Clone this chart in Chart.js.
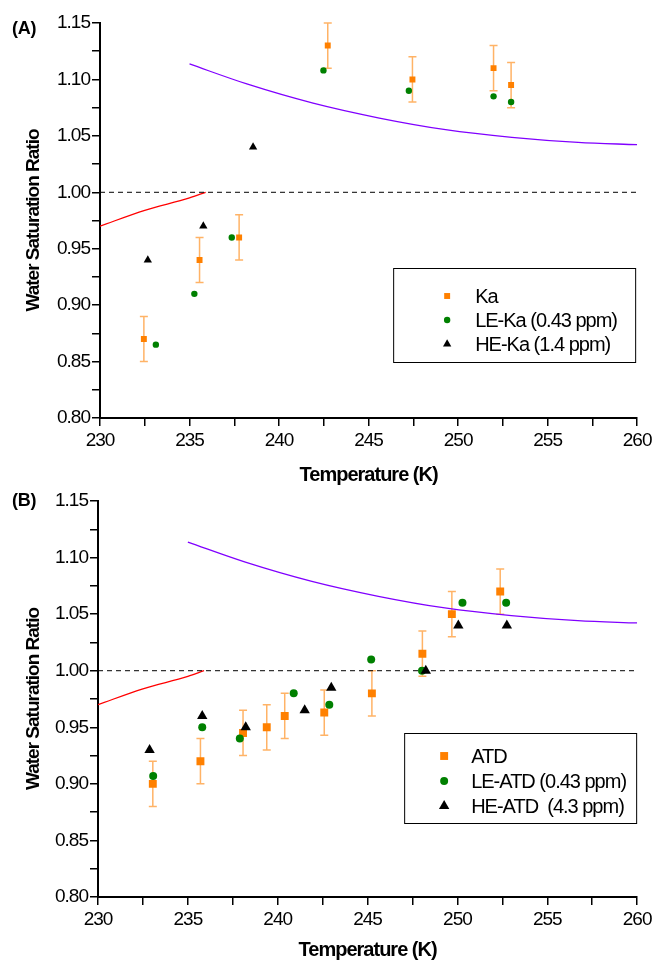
<!DOCTYPE html>
<html>
<head>
<meta charset="utf-8">
<script src="https://cdn.jsdelivr.net/npm/chart.js@4/dist/chart.umd.min.js"></script>
<style>
  html, body { margin: 0; padding: 0; background: #fff; }
  #wrap { position: relative; width: 656px; height: 962px; overflow: hidden; }
  canvas { position: absolute; left: 0; display: block; }
  .panel-tag {
    position: absolute; left: 12px;
    font: bold 18px "Liberation Sans", Arial, sans-serif;
    letter-spacing: -0.3px; color: #000;
  }
</style>
</head>
<body>
<div id="wrap">
  <canvas id="chartA" width="656" height="487" style="top:0"></canvas>
  <canvas id="chartB" width="656" height="475" style="top:487px"></canvas>
  <div class="panel-tag" style="top:18px">(A)</div>
  <div class="panel-tag" style="top:490px">(B)</div>
</div>
<script>
// --- axis ticks (major every 5 K / 0.05, minor in between) ---
const tempTicks = [230, 232.5, 235, 237.5, 240, 242.5, 245, 247.5, 250, 252.5, 255, 257.5, 260];
const ratioTicks = [0.80, 0.825, 0.85, 0.875, 0.90, 0.925, 0.95, 0.975, 1.00, 1.025, 1.05, 1.075, 1.10, 1.125, 1.15];

// --- reference curves shared by both panels ---
const iceCurveT = [235, 238.2, 241.9, 245.6, 249.3, 253.0, 256.7, 260];
const iceCurveS = [1.1137, 1.096, 1.079, 1.0658, 1.0555, 1.0487, 1.0442, 1.0422];
const liqCurveT = [230, 232.5, 235, 235.9];
const liqCurveS = [0.970, 0.984, 0.995, 1.000];
const satLineT = [230, 260];
const satLineS = [1.0, 1.0];

// --- panel A: kaolinite ---
const kaT = [232.45, 235.56, 237.77, 242.72, 247.45, 251.98, 252.96];
const kaS = [0.87, 0.94, 0.96, 1.13, 1.10, 1.11, 1.095];
const kaErr = [0.02, 0.02, 0.02, 0.02, 0.02, 0.02, 0.02];
const leKaT = [233.12, 235.27, 237.36, 242.48, 247.25, 251.98, 252.96];
const leKaS = [0.865, 0.91, 0.96, 1.108, 1.09, 1.085, 1.08];
const heKaT = [232.67, 235.77, 238.55];
const heKaS = [0.94, 0.97, 1.04];

// --- panel B: ATD ---
const atdT = [233.05, 235.70, 238.07, 239.39, 240.39, 242.59, 245.24, 248.05, 249.69, 252.38];
const atdS = [0.90, 0.92, 0.945, 0.95, 0.96, 0.963, 0.98, 1.015, 1.05, 1.07];
const atdErr = [0.02, 0.02, 0.02, 0.02, 0.02, 0.02, 0.02, 0.02, 0.02, 0.02];
const leAtdT = [233.07, 235.8, 237.89, 240.89, 242.87, 245.2, 248.03, 250.28, 252.71];
const leAtdS = [0.907, 0.95, 0.94, 0.98, 0.97, 1.01, 1.00, 1.06, 1.06];
const heAtdT = [232.87, 235.8, 238.22, 241.5, 242.98, 248.24, 250.05, 252.75];
const heAtdS = [0.93, 0.96, 0.95, 0.965, 0.985, 1.00, 1.04, 1.04];

const FONT = '"Liberation Sans", Arial, sans-serif';
const ORANGE = "#ff8000";
const GREEN = "#008000";
const toPts = (xs, ys) => xs.map((x, i) => ({ x: x, y: ys[i] }));

// tighter text, like the original plotting program
const tightText = {
    id: "tightText",
    beforeDraw(chart) {
        chart.ctx.letterSpacing = "-1px";
    },
};

// vertical error bars for one dataset, drawn behind the markers
const errorBars = {
    id: "errorBars",
    beforeDatasetsDraw(chart, args, opts) {
        if (!opts || !opts.err) return;
        const { ctx } = chart;
        const x = chart.scales.x;
        const y = chart.scales.y;
        const pts = chart.data.datasets[opts.dataset].data;
        ctx.save();
        ctx.strokeStyle = "rgba(255, 128, 0, 0.6)";
        ctx.lineWidth = 1.5;
        pts.forEach((p, i) => {
            const px = x.getPixelForValue(p.x);
            const top = y.getPixelForValue(p.y + opts.err[i]);
            const bot = y.getPixelForValue(p.y - opts.err[i]);
            ctx.beginPath();
            ctx.moveTo(px, top);
            ctx.lineTo(px, bot);
            ctx.moveTo(px - opts.cap, top);
            ctx.lineTo(px + opts.cap, top);
            ctx.moveTo(px - opts.cap, bot);
            ctx.lineTo(px + opts.cap, bot);
            ctx.stroke();
        });
        ctx.restore();
    },
};

// boxed legend sitting inside the plot area
const boxLegend = {
    id: "boxLegend",
    afterDraw(chart, args, opts) {
        const { ctx, chartArea } = chart;
        const left = chartArea.right - opts.right - opts.width;
        const top = chartArea.top + opts.top;
        ctx.save();
        ctx.strokeStyle = "#000";
        ctx.lineWidth = 1;
        ctx.strokeRect(left + 0.5, top + 0.5, opts.width, opts.height);
        ctx.font = "20px " + FONT;
        ctx.textBaseline = "middle";
        ctx.textAlign = "left";
        opts.items.forEach((idx, row) => {
            const ds = chart.data.datasets[idx];
            const cy = top + opts.firstRow + row * opts.rowGap;
            ctx.fillStyle = ds.backgroundColor;
            Chart.helpers.drawPoint(ctx, {
                pointStyle: ds.pointStyle,
                radius: ds.pointRadius * opts.markerScale,
                rotation: 0,
                borderWidth: 0,
            }, left + opts.markerX, cy);
            ctx.fillStyle = "#000";
            ctx.fillText(ds.label, left + opts.textX, cy + 1);
        });
        ctx.restore();
    },
};

function makePanel(canvasId, cfg) {
    const ctx = document.getElementById(canvasId).getContext("2d");
    return new Chart(ctx, {
        type: "scatter",
        data: {
            datasets: [
                {
                    label: cfg.labels[0],
                    data: cfg.squares,
                    pointStyle: "rect",
                    pointRadius: cfg.sizes[0],
                    backgroundColor: ORANGE,
                    borderWidth: 0,
                    order: 3,
                },
                {
                    label: cfg.labels[1],
                    data: cfg.circles,
                    pointStyle: "circle",
                    pointRadius: cfg.sizes[1],
                    backgroundColor: GREEN,
                    borderWidth: 0,
                    order: 2,
                },
                {
                    label: cfg.labels[2],
                    data: cfg.triangles,
                    pointStyle: "triangle",
                    pointRadius: cfg.sizes[2],
                    backgroundColor: "#000",
                    borderWidth: 0,
                    order: 1,
                },
                {
                    type: "line",
                    data: toPts(iceCurveT, iceCurveS),
                    borderColor: "#8000ff",
                    borderWidth: 1.3,
                    pointRadius: 0,
                    cubicInterpolationMode: "monotone",
                    order: 6,
                },
                {
                    type: "line",
                    data: toPts(liqCurveT, liqCurveS),
                    borderColor: "#ff0000",
                    borderWidth: 1.3,
                    pointRadius: 0,
                    cubicInterpolationMode: "monotone",
                    order: 5,
                },
                {
                    type: "line",
                    data: toPts(satLineT, satLineS),
                    borderColor: "#000",
                    borderWidth: 1,
                    borderDash: [5, 4],
                    pointRadius: 0,
                    order: 4,
                },
            ],
        },
        plugins: [tightText, errorBars, boxLegend],
        options: {
            responsive: false,
            animation: false,
            devicePixelRatio: 1,
            layout: { padding: { top: cfg.padTop, right: 17, left: 0, bottom: 0 } },
            plugins: {
                legend: { display: false },
                tooltip: { enabled: false },
                errorBars: { dataset: 0, err: cfg.err, cap: 4 },
                boxLegend: cfg.legend,
            },
            scales: {
                x: {
                    type: "linear",
                    min: 230,
                    max: 260,
                    afterBuildTicks: (s) => { s.ticks = tempTicks.map((v) => ({ value: v })); },
                    afterFit: (s) => { s.height = cfg.xAxisHeight; },
                    ticks: {
                        autoSkip: false,
                        maxRotation: 0,
                        padding: 3,
                        color: "#000",
                        font: { family: FONT, size: 19 },
                        callback: (v) => (v % 5 === 0 ? String(v) : ""),
                    },
                    grid: { drawOnChartArea: false, tickLength: 8, color: "#000", lineWidth: 1.5 },
                    border: { color: "#000", width: 2 },
                    title: {
                        display: true,
                        text: "Temperature (K)",
                        color: "#000",
                        font: { family: FONT, size: 20, weight: "bold" },
                        padding: { top: 0, bottom: 0 },
                    },
                },
                y: {
                    type: "linear",
                    min: 0.8,
                    max: 1.15,
                    afterBuildTicks: (s) => { s.ticks = ratioTicks.map((v) => ({ value: v })); },
                    afterFit: (s) => { s.width = cfg.yAxisWidth; },
                    ticks: {
                        autoSkip: false,
                        padding: 2,
                        color: "#000",
                        font: { family: FONT, size: 19 },
                        callback: (v) => (Math.round(v * 1000) % 50 === 0 ? v.toFixed(2) : ""),
                    },
                    grid: { drawOnChartArea: false, tickLength: 8, color: "#000", lineWidth: 1.5 },
                    border: { color: "#000", width: 2 },
                    title: {
                        display: true,
                        text: "Water Saturation Ratio",
                        color: "#000",
                        font: { family: FONT, size: 19, weight: "bold" },
                        padding: { top: 22, bottom: 0 },
                    },
                },
            },
        },
    });
}

document.addEventListener("DOMContentLoaded", function () {
    makePanel("chartA", {
        labels: ["Ka", "LE-Ka (0.43 ppm)", "HE-Ka (1.4 ppm)"],
        squares: toPts(kaT, kaS),
        circles: toPts(leKaT, leKaS),
        triangles: toPts(heKaT, heKaS),
        err: kaErr,
        sizes: [4.2, 3.2, 4.8],
        padTop: 23,
        yAxisWidth: 100,
        xAxisHeight: 69,
        legend: {
            width: 242, height: 94, right: 2, top: 245,
            firstRow: 28, rowGap: 24, markerX: 54, textX: 82, markerScale: 1,
            items: [0, 1, 2],
        },
    });

    makePanel("chartB", {
        labels: ["ATD", "LE-ATD (0.43 ppm)", "HE-ATD  (4.3 ppm)"],
        squares: toPts(atdT, atdS),
        circles: toPts(leAtdT, leAtdS),
        triangles: toPts(heAtdT, heAtdS),
        err: atdErr,
        sizes: [5.6, 4.0, 6.0],
        padTop: 14,
        yAxisWidth: 98,
        xAxisHeight: 65,
        legend: {
            width: 232, height: 90, right: 1, top: 232,
            firstRow: 23, rowGap: 25, markerX: 40, textX: 67, markerScale: 1,
            items: [0, 1, 2],
        },
    });
});
</script>
</body>
</html>
